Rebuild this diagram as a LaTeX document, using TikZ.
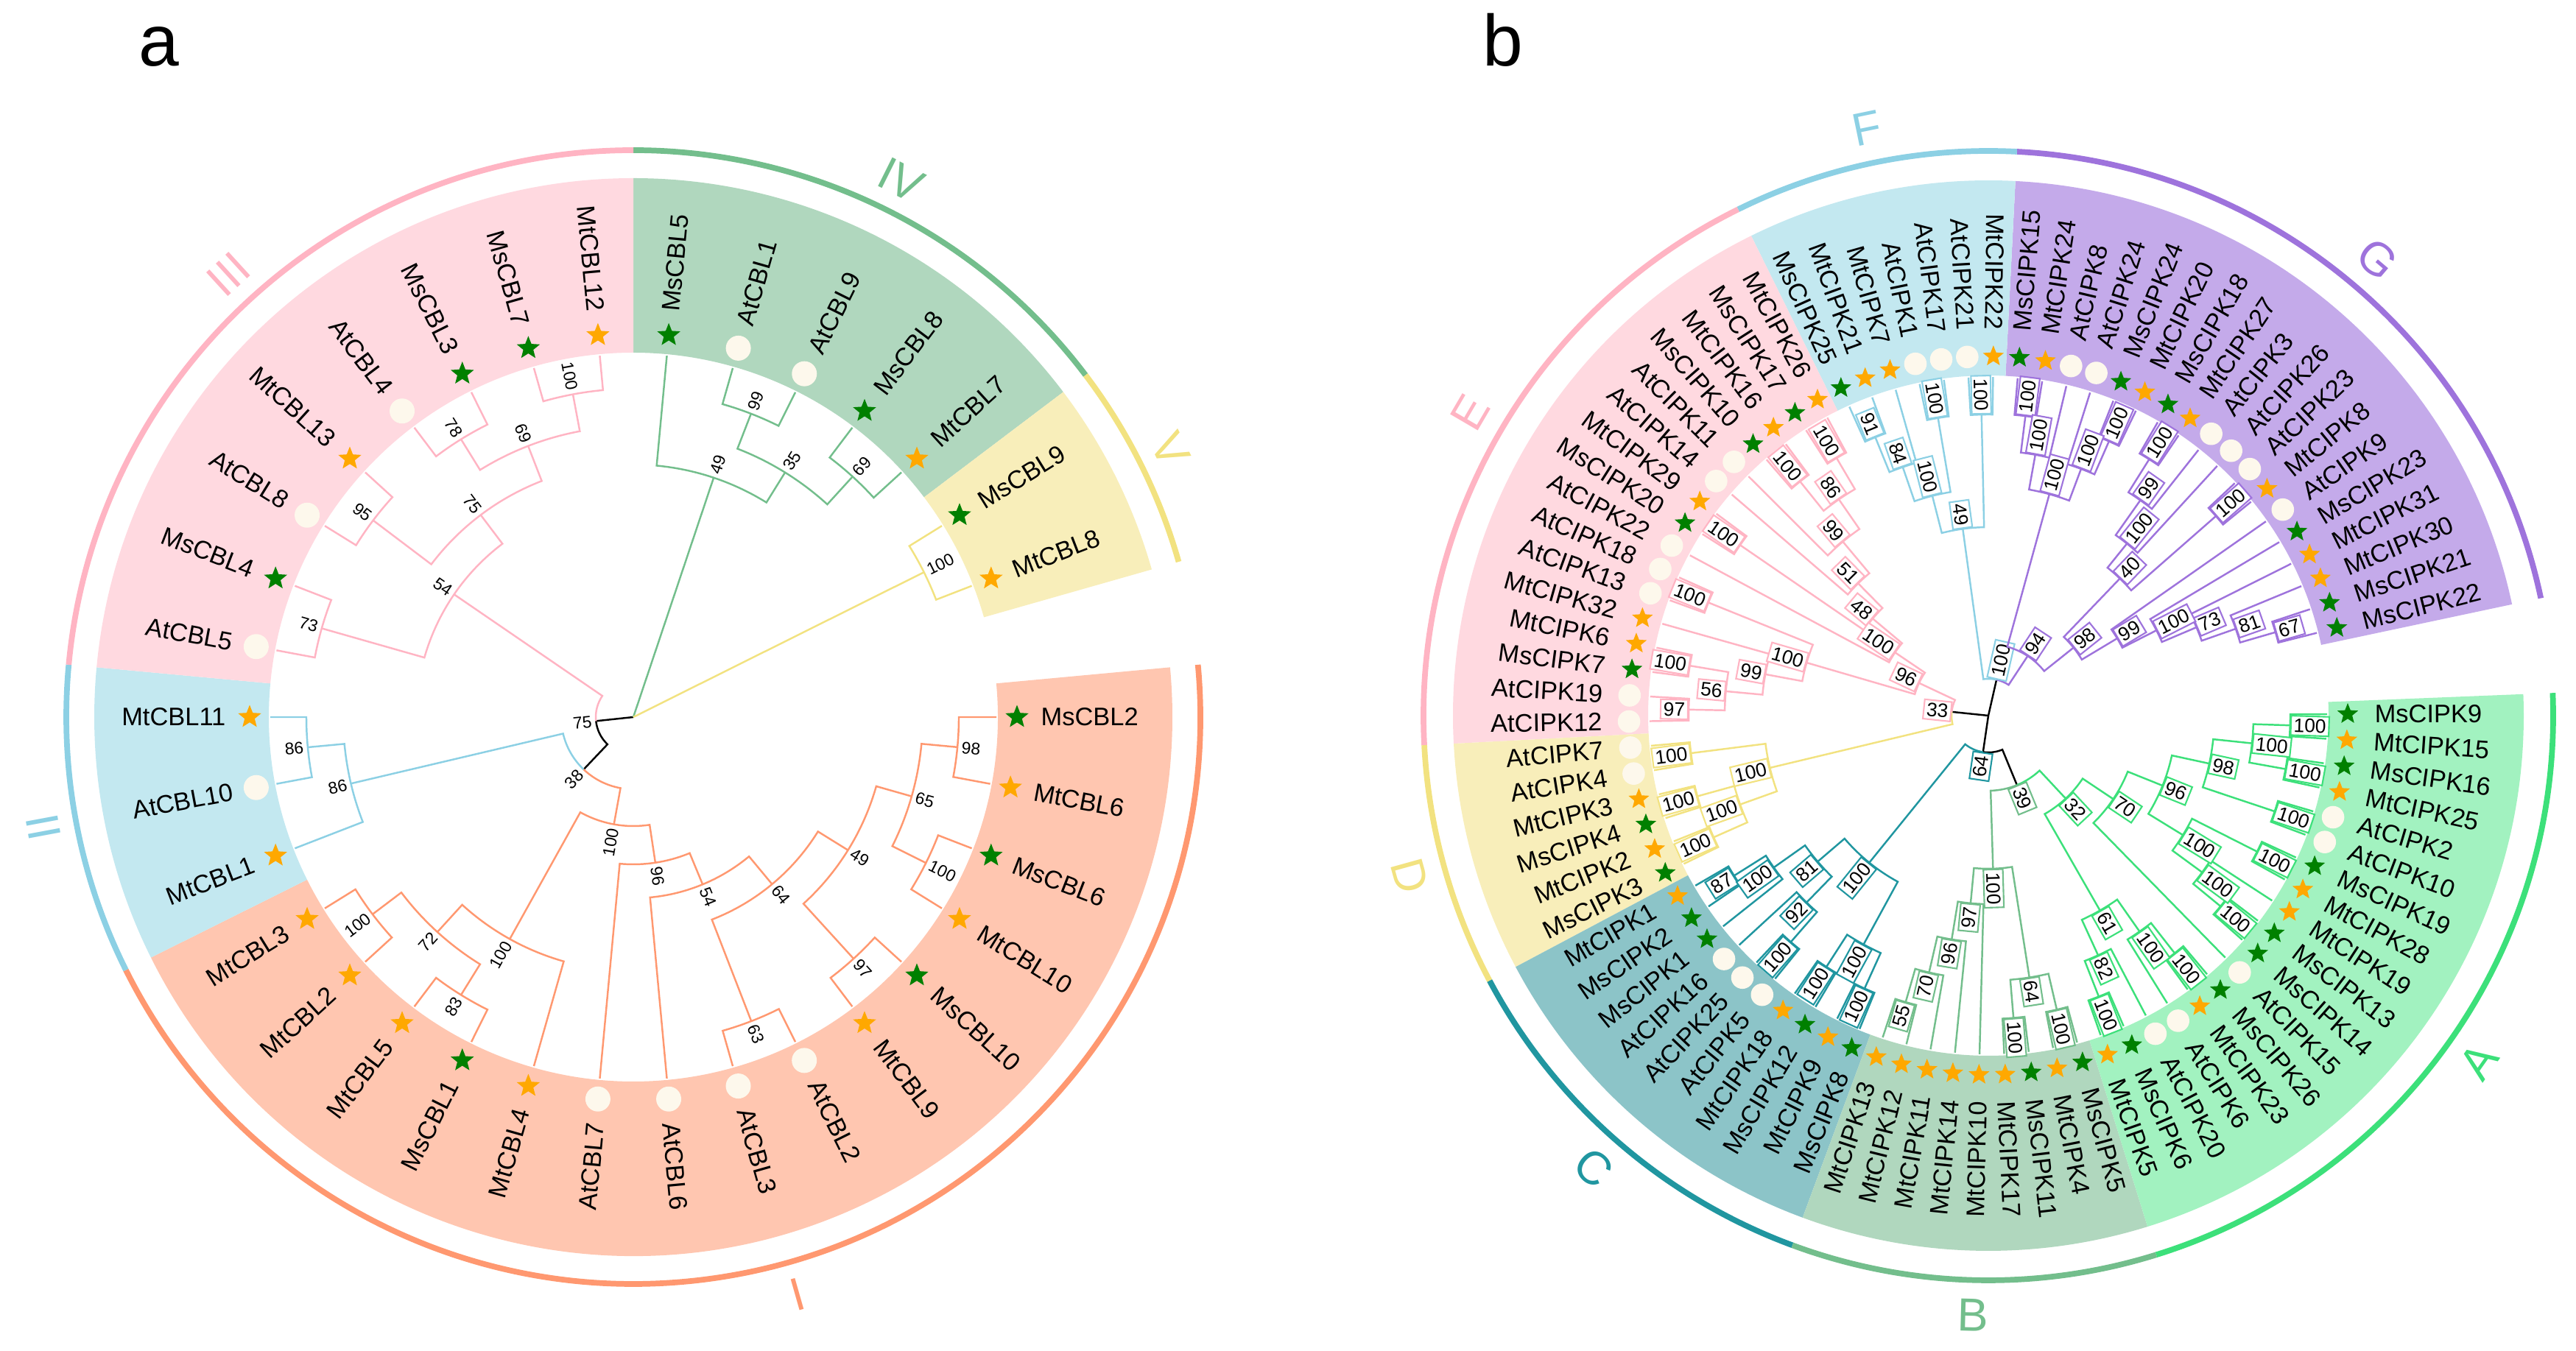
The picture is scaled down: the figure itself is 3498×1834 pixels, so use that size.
\documentclass[tikz,border=0pt]{standalone}
\usepackage{fontspec}
\setmainfont{Liberation Sans}
\usetikzlibrary{shapes.geometric}

% clade colours: L = branches and rims, B = background bands
\definecolor{pinkL}{RGB}{255,180,195}
\definecolor{pinkB}{RGB}{255,217,224}
\definecolor{sageL}{RGB}{115,190,140}
\definecolor{sageB}{RGB}{176,215,190}
\definecolor{yellowL}{RGB}{242,226,128}
\definecolor{yellowB}{RGB}{248,238,186}
\definecolor{orangeL}{RGB}{255,152,112}
\definecolor{orangeB}{RGB}{255,198,176}
\definecolor{skyL}{RGB}{140,208,228}
\definecolor{skyB}{RGB}{195,232,240}
\definecolor{purpleL}{RGB}{158,115,220}
\definecolor{purpleB}{RGB}{196,170,234}
\definecolor{mintL}{RGB}{60,224,122}
\definecolor{mintB}{RGB}{162,242,192}
\definecolor{tealL}{RGB}{32,150,160}
\definecolor{tealB}{RGB}{140,196,200}
\definecolor{msgreen}{RGB}{0,128,0}
\definecolor{mtorange}{RGB}{255,168,0}
\definecolor{atcream}{RGB}{253,248,236}

\tikzset{
  Ms/.style={star, star points=5, star point ratio=2.3, fill=msgreen, inner sep=0pt, minimum size=3.3mm},
  Mt/.style={star, star points=5, star point ratio=2.3, fill=mtorange, inner sep=0pt, minimum size=3.3mm},
  At/.style={circle, fill=atcream, inner sep=0pt, minimum size=3.4mm},
  leaf/.style={font=\fontsize{9.8}{11}\selectfont, inner sep=0pt},
  boota/.style={font=\fontsize{6.5}{7}\selectfont, inner sep=0.6pt},
  bootb/.style={font=\fontsize{7.5}{8}\selectfont, inner sep=1.1pt, fill=white, text=black, line width=0.6pt},
  clade/.style={font=\fontsize{18}{18}\selectfont, inner sep=0pt},
  panel/.style={font=\fontsize{28}{28}\selectfont, anchor=base},
  branch/.style={line width=0.7pt},
  rimline/.style={line width=2.2pt},
}

\newcommand{\sector}[5]{\fill[#1] (#2:#4) arc[start angle=#2, end angle=#3, radius=#4]
  -- (#3:#5) arc[start angle=#3, end angle=#2, radius=#5] -- cycle;}
\newcommand{\rim}[4]{\draw[rimline, #1] (#2:#4) arc[start angle=#2, end angle=#3, radius=#4];}
% half bracket from a node (angle, radius) out to a child (angle, radius)
\newcommand{\stem}[5]{\draw[branch, #1] (#2:#3) arc[start angle=#2, end angle=#4, radius=#3] -- (#4:#5);}
% bootstrap values, read outwards on the right, inwards on the left
\newcommand{\bsa}[3]{%
  \pgfmathtruncatemacro\bside{cos(#1)>=0}%
  \pgfmathsetmacro\brad{#2+3}%
  \ifnum\bside=1 \node[boota, rotate=#1, anchor=west] at (#1:\brad) {#3};%
  \else \node[boota, rotate=#1-180, anchor=east] at (#1:\brad) {#3};\fi}
\newcommand{\bsb}[4]{%
  \pgfmathtruncatemacro\bside{cos(#2)>=0}%
  \ifnum\bside=1 \node[bootb, draw=#1, rotate=#2, anchor=west] at (#2:#3) {#4};%
  \else \node[bootb, draw=#1, rotate=#2-180, anchor=east] at (#2:#3) {#4};\fi}

\begin{document}
\begin{tikzpicture}[x=0.1mm, y=0.1mm]
\useasboundingbox (0,0) rectangle (3498,1834);
\def\tipa{493}
\def\tipb{460}

% ================= a: CBL =================
\node[panel] at (216,1744) {a};
\begin{scope}[shift={(860,860)}]
  \sector{sageB}{90}{37.1}{495}{732}
  \sector{yellowB}{37.1}{15.9}{495}{732}
  \sector{orangeB}{5.3}{-153.5}{495}{732}
  \sector{skyB}{-153.5}{-185.3}{495}{732}
  \sector{pinkB}{174.7}{90}{495}{732}
  \rim{sageL}{90}{37.1}{770}
  \rim{yellowL}{37.1}{15.9}{770}
  \rim{orangeL}{5.3}{-153.5}{770}
  \rim{skyL}{-153.5}{-185.3}{770}
  \rim{pinkL}{174.7}{90}{770}
  \node[clade, text=pinkL, rotate=42.4] at (132.4:815) {III};
  \node[clade, text=sageL, rotate=-26.5] at (63.5:815) {IV};
  \node[clade, text=yellowL, rotate=-63.5] at (26.5:815) {V};
  \node[clade, text=orangeL, rotate=15.9] at (-74.1:815) {I};
  \node[clade, text=skyL, rotate=-79.4] at (-169.4:815) {II};

  % backbone
  \draw[branch] (0,0) -- (186.05:51);
  \stem{black}{186.05}{51}{226.5}{98}
  \draw[branch, sageL] (0,0) -- (71.45:343);
  \draw[branch, yellowL] (0,0) -- (26.5:441);
  \stem{pinkL}{186.05}{51}{145.6}{295}
  \stem{skyL}{226.5}{98}{193.25}{394}
  \stem{orangeL}{-133.5}{98}{-100.25}{148}
  \bsa{186.05}{51}{75}
  \bsa{226.5}{98}{38}

  % IV
  \foreach \an/\nr/\ax/\rx/\ay/\ry/\bv in {71.45/343/84.7/\tipa/58.2/391/49,
      58.2/391/68.8/442/47.65/442/35, 68.8/442/74.1/\tipa/63.5/\tipa/99,
      47.65/442/52.9/\tipa/42.4/\tipa/69}{
    \draw[branch, sageL] (\ax:\rx) -- (\ax:\nr) arc[start angle=\ax, end angle=\ay, radius=\nr] -- (\ay:\ry);
    \bsa{\an}{\nr}{\bv}
  }
  % V
  \foreach \an/\nr/\ax/\rx/\ay/\ry/\bv in {26.5/441/31.8/\tipa/21.2/\tipa/100}{
    \draw[branch, yellowL] (\ax:\rx) -- (\ax:\nr) arc[start angle=\ax, end angle=\ay, radius=\nr] -- (\ay:\ry);
    \bsa{\an}{\nr}{\bv}
  }
  % III
  \foreach \an/\nr/\ax/\rx/\ay/\ry/\bv in {100.6/446/105.9/\tipa/95.3/\tipa/100,
      121.8/444/127.1/\tipa/116.5/\tipa/78, 111.2/395/121.8/444/100.6/446/69,
      142.9/443/148.2/\tipa/137.6/\tipa/95, 127.05/344/142.9/443/111.2/395/75,
      164.1/440/169.4/\tipa/158.8/\tipa/73, 145.6/295/164.1/440/127.05/344/54}{
    \draw[branch, pinkL] (\ax:\rx) -- (\ax:\nr) arc[start angle=\ax, end angle=\ay, radius=\nr] -- (\ay:\ry);
    \bsa{\an}{\nr}{\bv}
  }
  % II
  \foreach \an/\nr/\ax/\rx/\ay/\ry/\bv in {185.3/444/180/\tipa/190.6/\tipa/86,
      193.25/394/185.3/444/201.2/\tipa/86}{
    \draw[branch, skyL] (\ax:\rx) -- (\ax:\nr) arc[start angle=\ax, end angle=\ay, radius=\nr] -- (\ay:\ry);
    \bsa{\an}{\nr}{\bv}
  }
  % I
  \foreach \an/\nr/\ax/\rx/\ay/\ry/\bv in {-5.3/442/0/\tipa/-10.6/\tipa/98,
      -26.5/444/-21.2/\tipa/-31.8/\tipa/100, -15.9/393/-5.3/442/-26.5/444/65,
      -47.65/444/-42.4/\tipa/-52.9/\tipa/97, -31.8/343/-15.9/393/-47.65/444/49,
      -68.8/443/-63.5/\tipa/-74.1/\tipa/63, -50.3/295/-31.8/343/-68.8/443/64,
      -67.5/246/-84.7/\tipa/-50.3/295/54, -81.4/200/-95.3/\tipa/-67.5/246/96,
      -142.9/444/-148.2/\tipa/-137.6/\tipa/100, -121.8/444/-127.1/\tipa/-116.5/\tipa/83,
      -132.35/395/-142.9/444/-121.8/444/72, -119.1/345/-132.35/395/-105.9/\tipa/100,
      -100.25/148/-119.1/345/-81.4/200/100}{
    \draw[branch, orangeL] (\ax:\rx) -- (\ax:\nr) arc[start angle=\ax, end angle=\ay, radius=\nr] -- (\ay:\ry);
    \bsa{\an}{\nr}{\bv}
  }

  % leaves
  \foreach \i/\p/\g in {0/Ms/CBL5, 1/At/CBL1, 2/At/CBL9, 3/Ms/CBL8, 4/Mt/CBL7,
      5/Ms/CBL9, 6/Mt/CBL8, 8/Ms/CBL2, 9/Mt/CBL6, 10/Ms/CBL6, 11/Mt/CBL10,
      12/Ms/CBL10, 13/Mt/CBL9, 14/At/CBL2, 15/At/CBL3, 16/At/CBL6}{
    \pgfmathsetmacro\lang{84.7-10.588*\i}
    \node[\p] at (\lang:521) {};
    \node[leaf, rotate=\lang, anchor=west] at (\lang:553) {\p\g};
  }
  \foreach \i/\p/\g in {17/At/CBL7, 18/Mt/CBL4, 19/Ms/CBL1, 20/Mt/CBL5, 21/Mt/CBL2,
      22/Mt/CBL3, 23/Mt/CBL1, 24/At/CBL10, 25/Mt/CBL11, 26/At/CBL5, 27/Ms/CBL4,
      28/At/CBL8, 29/Mt/CBL13, 30/At/CBL4, 31/Ms/CBL3, 32/Ms/CBL7, 33/Mt/CBL12}{
    \pgfmathsetmacro\lang{84.7-10.588*\i}
    \node[\p] at (\lang:521) {};
    \node[leaf, rotate=\lang-180, anchor=east] at (\lang:553) {\p\g};
  }
\end{scope}

% ================= b: CIPK =================
\node[panel] at (2041,1744) {b};
\begin{scope}[shift={(2700,862)}]
  \sector{purpleB}{87.1}{12.0}{462}{727}
  \sector{skyB}{87.1}{116.3}{462}{727}
  \sector{pinkB}{116.3}{183.0}{462}{727}
  \sector{yellowB}{183.0}{208.0}{462}{727}
  \sector{tealB}{208.0}{249.7}{462}{727}
  \sector{sageB}{249.7}{287.3}{462}{727}
  \sector{mintB}{287.3}{362.3}{462}{727}
  \rim{purpleL}{87.1}{12.0}{767}
  \rim{skyL}{87.1}{116.3}{767}
  \rim{pinkL}{116.3}{183.0}{767}
  \rim{yellowL}{183.0}{208.0}{767}
  \rim{tealL}{208.0}{249.7}{767}
  \rim{sageL}{249.7}{287.3}{767}
  \rim{mintL}{287.3}{362.3}{767}
  \node[clade, text=skyL, rotate=11.7] at (101.7:815) {F};
  \node[clade, text=purpleL, rotate=-40.45] at (49.55:815) {G};
  \node[clade, text=mintL, rotate=54.8] at (-35.2:815) {A};
  \node[clade, text=sageL, rotate=-1.5] at (268.5:815) {B};
  \node[clade, text=tealL, rotate=-41.15] at (228.85:815) {C};
  \node[clade, text=yellowL, rotate=-74.5] at (195.5:815) {D};
  \node[clade, text=pinkL, rotate=59.65] at (149.65:815) {E};

  % backbone
  \draw[branch] (0,0) -- (77.2:50);
  \draw[branch] (0,0) -- (174.1:50);
  \draw[branch] (0,0) -- (261.7:50);
  \stem{skyL}{77.2}{50}{97.8}{256}
  \stem{purpleL}{77.2}{50}{56.6}{97}
  \stem{pinkL}{174.1}{50}{154.8}{104}
  \stem{yellowL}{174.1}{50}{193.45}{305}
  \stem{tealL}{261.7}{50}{231.0}{257}
  \stem{black}{261.7}{50}{292.4}{102}
  \stem{sageL}{292.4}{102}{271.75}{208}
  \stem{mintL}{292.4}{102}{313.0}{154}
  \bsb{skyL}{77.2}{50}{100}
  \bsb{pinkL}{174.1}{50}{33}
  \bsb{tealL}{261.7}{50}{64}
  \bsb{sageL}{292.4}{102}{39}

  % F
  \foreach \an/\nr/\ax/\rx/\ay/\ry/\bv in {91.3/409/89.2/\tipb/93.37/\tipb/100,
      99.6/410/97.54/\tipb/101.71/\tipb/100, 112.1/408/110.05/\tipb/114.22/\tipb/91,
      109.0/357/105.88/\tipb/112.1/408/84, 104.3/308/99.6/410/109.0/357/100,
      97.8/256/91.3/409/104.3/308/49}{
    \draw[branch, skyL] (\ax:\rx) -- (\ax:\nr) arc[start angle=\ax, end angle=\ay, radius=\nr] -- (\ay:\ry);
    \bsb{skyL}{\an}{\nr}{\bv}
  }
  % G
  \foreach \an/\nr/\ax/\rx/\ay/\ry/\bv in {82.95/410/85.03/\tipb/80.86/\tipb/100,
      79.8/360/82.95/410/76.69/\tipb/100, 66.27/407/68.35/\tipb/64.18/\tipb/100,
      69.4/358/72.52/\tipb/66.27/407/100, 74.6/312/79.8/360/69.4/358/100,
      57.9/411/60.01/\tipb/55.84/\tipb/100, 54.8/358/57.9/411/51.67/\tipb/99,
      51.15/300/54.8/358/47.5/\tipb/100, 41.25/411/43.33/\tipb/39.16/\tipb/100,
      46.2/258/51.15/300/41.25/411/40, 16.2/406/18.31/\tipb/14.14/\tipb/67,
      19.35/356/22.48/\tipb/16.2/406/81, 23.0/307/26.65/\tipb/19.35/356/73,
      26.9/256/30.82/\tipb/23.0/307/100, 30.95/204/34.99/\tipb/26.9/256/99,
      38.6/148/46.2/258/30.95/204/98, 56.6/97/74.6/312/38.6/148/94}{
    \draw[branch, purpleL] (\ax:\rx) -- (\ax:\nr) arc[start angle=\ax, end angle=\ay, radius=\nr] -- (\ay:\ry);
    \bsb{purpleL}{\an}{\nr}{\bv}
  }
  % E
  \foreach \an/\nr/\ax/\rx/\ay/\ry/\bv in {120.5/406/118.39/\tipb/122.56/\tipb/100,
      128.8/408/126.73/\tipb/130.9/\tipb/100, 124.65/357/120.5/406/128.8/408/86,
      129.9/308/124.65/357/135.07/\tipb/99, 134.55/252/129.9/308/139.24/\tipb/51,
      145.5/409/143.41/\tipb/147.58/\tipb/100, 140.0/205/134.55/252/145.5/409/48,
      145.9/153/140.0/205/151.75/\tipb/100, 158.0/410/155.92/\tipb/160.09/\tipb/100,
      170.5/411/168.43/\tipb/172.6/\tipb/100, 178.85/407/176.77/\tipb/180.94/\tipb/97,
      174.7/358/170.5/411/178.85/407/56, 169.5/308/164.26/\tipb/174.7/358/99,
      163.75/257/158.0/410/169.5/308/100, 154.8/104/145.9/153/163.75/257/96}{
    \draw[branch, pinkL] (\ax:\rx) -- (\ax:\nr) arc[start angle=\ax, end angle=\ay, radius=\nr] -- (\ay:\ry);
    \bsb{pinkL}{\an}{\nr}{\bv}
  }
  % D
  \foreach \an/\nr/\ax/\rx/\ay/\ry/\bv in {187.2/407/185.11/\tipb/189.28/\tipb/100,
      195.5/410/193.45/\tipb/197.62/\tipb/100, 203.9/408/201.79/\tipb/205.96/\tipb/100,
      199.7/358/195.5/410/203.9/408/100, 193.45/305/187.2/407/199.7/358/100}{
    \draw[branch, yellowL] (\ax:\rx) -- (\ax:\nr) arc[start angle=\ax, end angle=\ay, radius=\nr] -- (\ay:\ry);
    \bsb{yellowL}{\an}{\nr}{\bv}
  }
  % C
  \foreach \an/\nr/\ax/\rx/\ay/\ry/\bv in {212.2/408/210.13/\tipb/214.3/\tipb/87,
      215.3/357/212.2/408/218.47/\tipb/100, 228.9/408/226.81/\tipb/230.98/\tipb/100,
      225.8/354/222.64/\tipb/228.9/408/92, 220.55/305/215.3/357/225.8/354/81,
      237.2/406/235.15/\tipb/239.32/\tipb/100, 245.6/407/243.49/\tipb/247.66/\tipb/100,
      241.4/354/237.2/406/245.6/407/100, 231.0/257/220.55/305/241.4/354/100}{
    \draw[branch, tealL] (\ax:\rx) -- (\ax:\nr) arc[start angle=\ax, end angle=\ay, radius=\nr] -- (\ay:\ry);
    \bsb{tealL}{\an}{\nr}{\bv}
  }
  % B
  \foreach \an/\nr/\ax/\rx/\ay/\ry/\bv in {253.9/405/251.83/\tipb/256.0/\tipb/55,
      257.0/358/253.9/405/260.17/\tipb/70, 260.7/308/257.0/358/264.34/\tipb/96,
      264.6/256/260.7/308/268.51/\tipb/97, 274.75/412/272.68/\tipb/276.85/\tipb/100,
      283.1/410/281.02/\tipb/285.19/\tipb/100, 278.9/360/274.75/412/283.1/410/64,
      271.75/208/264.6/256/278.9/360/100}{
    \draw[branch, sageL] (\ax:\rx) -- (\ax:\nr) arc[start angle=\ax, end angle=\ay, radius=\nr] -- (\ay:\ry);
    \bsb{sageL}{\an}{\nr}{\bv}
  }
  % A
  \foreach \an/\nr/\ax/\rx/\ay/\ry/\bv in {291.45/410/289.36/\tipb/293.53/\tipb/100,
      294.6/358/291.45/410/297.7/\tipb/82, 308.1/410/306.04/\tipb/310.21/\tipb/100,
      305.0/358/301.87/\tipb/308.1/410/100, 299.8/305/294.6/358/305.0/358/61,
      320.6/408/318.55/\tipb/322.72/\tipb/100, 323.75/360/320.6/408/326.89/\tipb/100,
      333.15/409/331.06/\tipb/335.23/\tipb/100, 328.45/310/323.75/360/333.15/409/100,
      341.5/410/339.4/\tipb/343.57/\tipb/100, 349.8/410/347.74/\tipb/351.91/\tipb/100,
      358.15/410/356.08/\tipb/360.25/\tipb/100, 354.0/360/349.8/410/358.15/410/100,
      347.75/307/341.5/410/354.0/360/98, 338.1/255/328.45/310/347.75/307/96,
      326.25/204/314.38/\tipb/338.1/255/70, 313.0/154/299.8/305/326.25/204/32}{
    \draw[branch, mintL] (\ax:\rx) -- (\ax:\nr) arc[start angle=\ax, end angle=\ay, radius=\nr] -- (\ay:\ry);
    \bsb{mintL}{\an}{\nr}{\bv}
  }

  % leaves
  \foreach \i/\p/\g in {-18/Ms/CIPK22, -17/Ms/CIPK21, -16/Mt/CIPK30, -15/Mt/CIPK31,
      -14/Ms/CIPK23, -13/At/CIPK9, -12/Mt/CIPK8, -11/At/CIPK23, -10/At/CIPK26,
      -9/At/CIPK3, -8/Mt/CIPK27, -7/Ms/CIPK18, -6/Mt/CIPK20, -5/Ms/CIPK24,
      -4/At/CIPK24, -3/At/CIPK8, -2/Mt/CIPK24, -1/Ms/CIPK15,
      44/Mt/CIPK17, 45/Ms/CIPK11, 46/Mt/CIPK4, 47/Ms/CIPK5, 48/Mt/CIPK5,
      49/Ms/CIPK6, 50/At/CIPK20, 51/At/CIPK6, 52/Mt/CIPK23, 53/Ms/CIPK26,
      54/At/CIPK15, 55/Ms/CIPK14, 56/Ms/CIPK13, 57/Mt/CIPK19, 58/Mt/CIPK28,
      59/Ms/CIPK19, 60/At/CIPK10, 61/At/CIPK2, 62/Mt/CIPK25, 63/Ms/CIPK16,
      64/Mt/CIPK15, 65/Ms/CIPK9}{
    \pgfmathsetmacro\lang{89.2+4.17*\i}
    \node[\p, scale=0.9] at (\lang:488) {};
    \node[leaf, rotate=\lang, anchor=west] at (\lang:524) {\p\g};
  }
  \foreach \i/\p/\g in {0/Mt/CIPK22, 1/At/CIPK21, 2/At/CIPK17, 3/At/CIPK1, 4/Mt/CIPK7,
      5/Mt/CIPK21, 6/Ms/CIPK25, 7/Mt/CIPK26, 8/Ms/CIPK17, 9/Mt/CIPK16, 10/Ms/CIPK10,
      11/At/CIPK11, 12/At/CIPK14, 13/Mt/CIPK29, 14/Ms/CIPK20, 15/At/CIPK22,
      16/At/CIPK18, 17/At/CIPK13, 18/Mt/CIPK32, 19/Mt/CIPK6, 20/Ms/CIPK7,
      21/At/CIPK19, 22/At/CIPK12, 23/At/CIPK7, 24/At/CIPK4, 25/Mt/CIPK3,
      26/Ms/CIPK4, 27/Mt/CIPK2, 28/Ms/CIPK3, 29/Mt/CIPK1, 30/Ms/CIPK2, 31/Ms/CIPK1,
      32/At/CIPK16, 33/At/CIPK25, 34/At/CIPK5, 35/Mt/CIPK18, 36/Ms/CIPK12,
      37/Mt/CIPK9, 38/Ms/CIPK8, 39/Mt/CIPK13, 40/Mt/CIPK12, 41/Mt/CIPK11,
      42/Mt/CIPK14, 43/Mt/CIPK10}{
    \pgfmathsetmacro\lang{89.2+4.17*\i}
    \node[\p, scale=0.9] at (\lang:488) {};
    \node[leaf, rotate=\lang-180, anchor=east] at (\lang:524) {\p\g};
  }
\end{scope}
\end{tikzpicture}
\end{document}
